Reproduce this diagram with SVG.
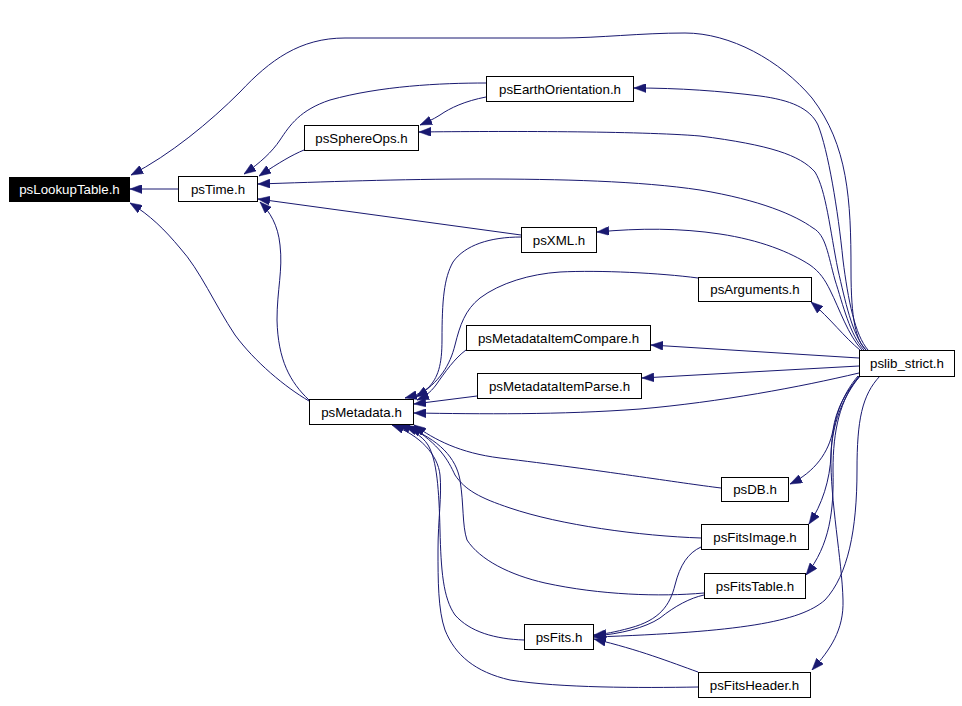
<svg xmlns="http://www.w3.org/2000/svg" width="962" height="706" viewBox="0 0 962 706">
<style>
.n rect{fill:#fff;stroke:#000;stroke-width:1}
.n text{font-family:"Liberation Sans",Arial,sans-serif;font-size:13.3px;text-anchor:middle;fill:#000}
#n_lookup rect{fill:#000}
#n_lookup text{fill:#fff}
.e path{fill:none;stroke:#191970;stroke-width:1;marker-end:url(#arr)}
</style>
<defs>
<marker id="arr" markerUnits="userSpaceOnUse" markerWidth="12" markerHeight="9" viewBox="0 0 12 9" refX="12" refY="4.5" orient="auto">
<path d="M0,0 L12,4.5 L0,9 z" fill="#191970" stroke="#191970" stroke-width="0.5"/>
</marker>
</defs>
<rect width="962" height="706" fill="#fff"/>
<g id="edges" class="e">
<path d="M178,189 L130,189"/>
<path d="M866,350 C856,340 851,320 851,270 C851,200 848,145 812,98 C780,60 730,33 685,33 C640,33 600,38 560,38 L345,38 C300,38 270,60 240,92 C210,122 170,155 131,175"/>
<path d="M309,401 C285,387 255,362 235,335 C215,305 200,270 180,248 C165,230 150,215 130,203"/>
<path d="M486,83 C440,83 380,86 330,100 C300,110 290,125 280,140 C272,152 260,163 244,174"/>
<path d="M486,97 C465,101 450,108 440,115 C432,120 427,122 420,125"/>
<path d="M304,150 C292,155 280,162 259,176"/>
<path d="M864,350 C850,335 843,305 835,280 C828,255 826,235 813,228 C795,215 760,200 700,190 C640,181 560,179 480,179 C400,179 320,182 258,184"/>
<path d="M868,350 C855,335 848,300 843,260 C838,210 828,150 818,125 C810,108 790,100 760,96 C720,91 680,88 634,88"/>
<path d="M866,350 C852,335 845,300 838,270 C830,230 826,190 815,172 C800,155 770,145 700,136 C640,131 500,131 419,132"/>
<path d="M862,350 C848,335 840,310 830,290 C825,280 820,272 810,265 C790,252 760,240 720,234 C680,228 640,228 597,232"/>
<path d="M860,350 C845,338 830,318 811,302"/>
<path d="M859,358 L651,345"/>
<path d="M859,366 L642,378"/>
<path d="M859,373 C800,387 720,402 640,409 C560,415 480,414 414,413"/>
<path d="M521,235 L258,199"/>
<path d="M309,400 C290,382 278,360 277,320 C277,290 283,270 280,245 C278,225 270,212 260,202"/>
<path d="M521,237 C490,237 465,245 453,262 C444,278 442,300 442,340 C442,365 438,378 428,388 C420,394 413,396 405,398"/>
<path d="M698,278 C660,273 600,270 560,272 C530,274 500,283 480,298 C465,310 460,325 455,345 C450,365 440,382 416,397"/>
<path d="M466,350 C455,358 445,372 436,385 C430,393 424,397 417,400"/>
<path d="M477,396 L414,404"/>
<path d="M721,488 C680,483 600,470 500,458 C460,453 435,440 414,425"/>
<path d="M701,538 C640,536 560,525 510,508 C480,498 465,490 455,475 C448,460 440,445 410,426"/>
<path d="M704,593 C660,597 600,595 545,583 C510,575 480,560 467,540 C462,525 464,505 460,480 C456,458 440,440 405,426"/>
<path d="M524,640 C495,639 470,632 455,615 C443,598 441,570 440,530 C439,490 437,460 428,445 C422,435 408,428 398,425"/>
<path d="M698,687 C640,688 560,688 510,680 C475,672 455,655 445,630 C438,610 438,580 438,550 C438,520 442,495 440,475 C438,455 420,435 392,425"/>
<path d="M860,376 C845,392 836,410 833,430 C829,452 815,472 790,484"/>
<path d="M860,376 C842,398 832,425 831,455 C830,480 822,505 809,524"/>
<path d="M859,376 C840,400 833,430 833,470 C834,510 830,545 806,575"/>
<path d="M880,376 C862,395 857,420 857,470 C857,530 848,575 825,600 C800,622 740,632 594,637"/>
<path d="M858,376 C842,395 832,420 831,455 C830,500 842,560 843,600 C844,630 830,650 812,670"/>
<path d="M701,547 C688,553 680,565 675,585 C670,605 660,620 630,628 C615,632 605,634 594,635"/>
<path d="M704,595 C690,598 675,606 660,618 C645,628 620,634 594,636"/>
<path d="M698,672 C670,662 640,650 594,639"/>
</g>
<g id="n_lookup" class="n"><rect x="9.5" y="177.5" width="120" height="24"/><text x="69.5" y="194">psLookupTable.h</text></g>
<g id="n_time" class="n"><rect x="178.5" y="176.5" width="79" height="25"/><text x="218" y="193.5">psTime.h</text></g>
<g id="n_earth" class="n"><rect x="486.5" y="76.5" width="147" height="25"/><text x="560" y="93.5">psEarthOrientation.h</text></g>
<g id="n_sphere" class="n"><rect x="304.5" y="125.5" width="114" height="25"/><text x="361.5" y="142.5">psSphereOps.h</text></g>
<g id="n_xml" class="n"><rect x="521.5" y="227.5" width="75" height="25"/><text x="559" y="244.5">psXML.h</text></g>
<g id="n_args" class="n"><rect x="698.5" y="277.5" width="113" height="24"/><text x="755" y="294">psArguments.h</text></g>
<g id="n_cmp" class="n"><rect x="466.5" y="325.5" width="184" height="25"/><text x="558.5" y="342.5">psMetadataItemCompare.h</text></g>
<g id="n_parse" class="n"><rect x="477.5" y="373.5" width="164" height="25"/><text x="559.5" y="390.5">psMetadataItemParse.h</text></g>
<g id="n_meta" class="n"><rect x="309.5" y="399.5" width="104" height="25"/><text x="361.5" y="416.5">psMetadata.h</text></g>
<g id="n_pslib" class="n"><rect x="859.5" y="350.5" width="95" height="26"/><text x="907" y="368">pslib_strict.h</text></g>
<g id="n_db" class="n"><rect x="721.5" y="477.5" width="67" height="24"/><text x="755" y="494">psDB.h</text></g>
<g id="n_fimg" class="n"><rect x="701.5" y="524.5" width="107" height="25"/><text x="755" y="541.5">psFitsImage.h</text></g>
<g id="n_ftab" class="n"><rect x="704.5" y="573.5" width="101" height="25"/><text x="755" y="590.5">psFitsTable.h</text></g>
<g id="n_fits" class="n"><rect x="524.5" y="624.5" width="69" height="25"/><text x="559" y="641.5">psFits.h</text></g>
<g id="n_fhdr" class="n"><rect x="698.5" y="672.5" width="112" height="25"/><text x="754.5" y="689.5">psFitsHeader.h</text></g>
</svg>
